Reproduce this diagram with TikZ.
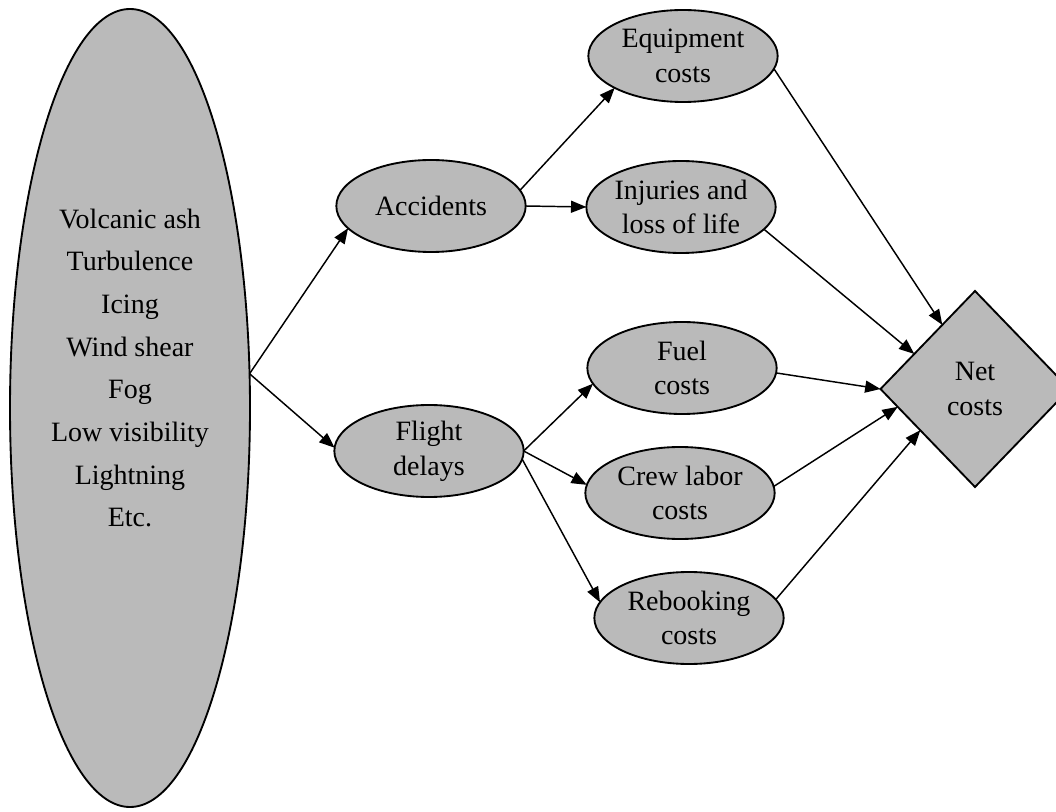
\documentclass[tikz,border=0pt]{standalone}
\usepackage{fontspec}
\setmainfont{Liberation Serif}
\usetikzlibrary{shapes.geometric,arrows.meta}
\begin{document}
\begin{tikzpicture}[x=0.75pt,y=-0.75pt,
  bub/.style={ellipse,draw=black,line width=1.4pt,fill=black!27,minimum width=142pt,minimum height=69pt,inner sep=0pt,outer sep=0pt,align=center,font=\fontsize{21}{26}\selectfont},
  conn/.style={line width=1.1pt,-{Triangle[length=11.5pt,width=9pt]}},
  listtext/.style={align=center,inner sep=0pt,font=\fontsize{21}{32}\selectfont},
]
\clip (0,0) rectangle (1056,812);
\useasboundingbox (0,0) rectangle (1056,812);

\node[bub, minimum width=180pt, minimum height=598.5pt] (big) at (130,408) {};
\node[listtext] (causes) at (130,368) {Volcanic ash\\Turbulence\\Icing\\Wind shear\\Fog\\Low visibility\\Lightning\\Etc.};

\node[bub] (acc) at (431,206) {Accidents};
\node[bub] (fd) at (429,451) {Flight\\delays};
\node[bub] (eq) at (683,56) {Equipment\\costs};
\node[bub] (inj) at (681,207) {Injuries and\\loss of life};
\node[bub] (fuel) at (682,368) {Fuel\\costs};
\node[bub] (crew) at (680,493) {Crew labor\\costs};
\node[bub] (reb) at (689,618) {Rebooking\\costs};
\node[diamond, draw=black, line width=1.4pt, fill=black!27, minimum width=141.75pt, minimum height=147pt, inner sep=0pt, outer sep=0pt, align=center, font=\fontsize{21}{26}\selectfont] (net) at (975,389) {Net\\costs};

\draw[conn] (big.16) -- (acc.195);
\draw[conn] (big.16) -- (fd.178);
\draw[conn] (acc.10) -- (eq.205);
\draw[conn] (acc.east) -- (inj.west);
\draw[conn] (fd.east) -- (fuel.190);
\draw[conn] (fd.east) -- (crew.175);
\draw[conn] (fd.355) -- (reb.170);
\draw[conn] (eq.-8) -- (net.117);
\draw[conn] (inj.-15) -- (net.150);
\draw[conn] (fuel.-3) -- (net.west);
\draw[conn] (crew.4) -- (net.193);
\draw[conn] (reb.12) -- (net.217);
\end{tikzpicture}
\end{document}
